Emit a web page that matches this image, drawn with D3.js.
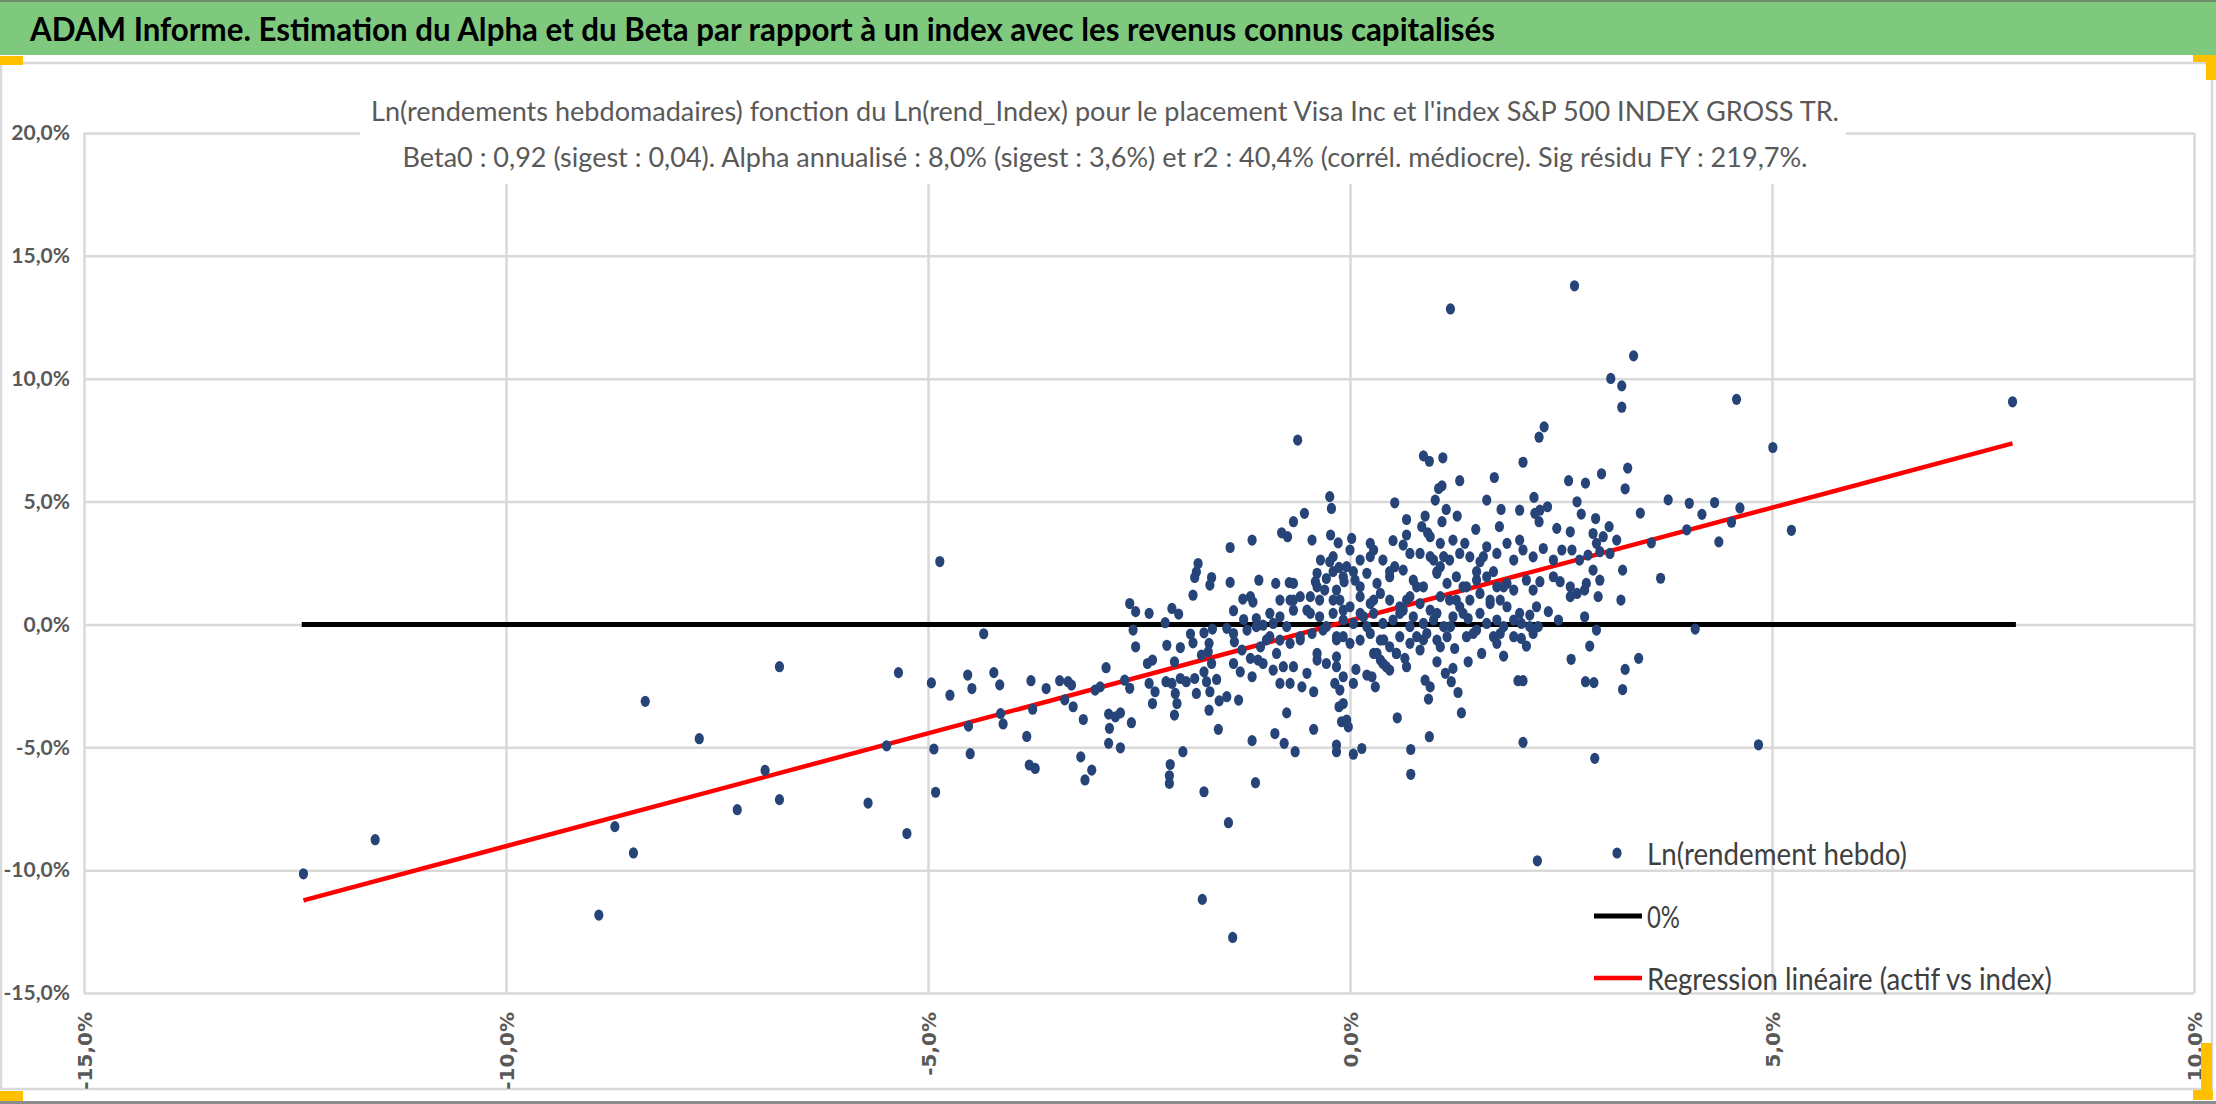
<!DOCTYPE html>
<html>
<head>
<meta charset="utf-8">
<script src="https://cdn.jsdelivr.net/npm/d3@7"></script>
<style>
body { margin: 0; background: #fff; }
svg { display: block; }
</style>
</head>
<body>
<script>
var width = 2216, height = 1104;

// texts
var bannerTitle = "ADAM Informe. Estimation du Alpha et du Beta par rapport à un index avec les revenus connus capitalisés";
var chartTitle = [
 "Ln(rendements hebdomadaires) fonction du Ln(rend_Index) pour le placement Visa Inc et l'index S&P 500 INDEX GROSS TR.",
 "Beta0 : 0,92 (sigest : 0,04). Alpha annualisé : 8,0% (sigest : 3,6%) et r2 : 40,4% (corrél. médiocre). Sig résidu FY : 219,7%."
];
var legendLabels = ["Ln(rendement hebdo)", "0%", "Regression linéaire (actif vs index)"];

// axis ticks
var xTicks = [-15, -10, -5, 0, 5, 10];
var xTickLabels = ["-15,0%", "-10,0%", "-5,0%", "0,0%", "5,0%", "10,0%"];
var yTicks = [-15, -10, -5, 0, 5, 10, 15, 20];
var yTickLabels = ["-15,0%", "-10,0%", "-5,0%", "0,0%", "5,0%", "10,0%", "15,0%", "20,0%"];

// zero line and regression line (index %, asset %)
var zeroX = [-12.42, 7.89];
var zeroY = [0, 0];
var regX = [-12.40, 7.85];
var regY = [-11.23, 7.37];

// weekly log returns [index %, asset %]
var weeklyPoints = [
 [-12.40,-10.15],[-11.55,-8.76],[-8.90,-11.83],[-8.71,-8.23],[-8.49,-9.30],[-8.35,-3.13],[-7.71,-4.65],[-7.26,-7.54],
 [-6.93,-5.94],[-6.76,-1.72],[-6.76,-7.13],[-5.71,-7.27],[-5.49,-4.94],[-5.35,-1.96],[-5.25,-8.51],[-4.96,-2.38],
 [-4.93,-5.07],[-4.91,-6.83],[-4.86,2.56],[-4.74,-2.88],[-4.53,-2.06],[-4.52,-4.14],[-4.50,-5.26],[-4.48,-2.61],
 [-4.34,-0.38],[-4.22,-1.96],[-4.15,-2.46],[-4.14,-3.63],[-4.11,-4.05],[-3.83,-4.56],[-3.80,-5.72],[-3.73,-5.86],
 [-3.78,-2.29],[-3.76,-3.45],[-3.60,-2.61],[-3.44,-2.29],[-3.38,-3.07],
 [-0.24,5.20],[-0.22,4.72],[-0.54,4.52],[-0.67,4.18],[-0.81,3.73],[-0.74,3.57],[-1.16,3.43],[-1.42,3.13],[-0.45,3.43],
 [-0.23,3.64],[-0.14,3.32],[-1.80,2.48],[-1.82,2.14],[-1.84,1.91],[-1.64,1.91],[-1.66,1.60],[-1.42,1.71],[-1.08,1.80],
 [-0.88,1.67],[-0.72,1.70],[-0.67,1.67],[-0.35,2.62],[-0.24,2.55],[-0.13,2.32],[-0.39,2.08],[-0.41,1.74],[-0.28,1.87],
 [-0.07,1.74],[-1.86,1.19],[-1.27,1.03],[-1.18,1.13],[-1.15,0.91],[-2.61,0.85],[-2.54,0.52],[-2.38,0.45],[-2.11,0.65],
 [-2.03,0.42],[-1.38,0.56],[-0.83,0.99],[-0.71,0.99],[-0.59,1.13],[-0.47,1.13],[-0.36,0.99],[-0.30,1.40],[-0.16,1.40],
 [-2.19,0.07],[-2.57,-0.23],[-2.54,-0.91],[-1.89,-0.39],[-1.73,-0.34],[-1.63,-0.19],[-1.46,-0.16],[-1.38,-0.37],
 [-1.26,0.20],[-1.11,0.24],[-1.22,-0.23],[-1.03,-0.03],[-0.91,0.04],[-0.83,0.31],[-0.67,0.58],[-0.51,0.58],[-0.36,0.31],
 [-0.20,0.45],[-0.08,0.58],[-2.17,-0.85],[-2.01,-0.94],[-1.86,-0.75],[-1.67,-0.77],[-1.68,-1.11],[-1.76,-1.25],
 [-1.64,-1.59],[-1.38,-1.59],[-1.37,-0.71],[-1.28,-1.04],[-1.18,-1.38],[-1.09,-1.45],[-1.06,-0.91],[-0.95,-0.50],
 [-0.83,-0.64],[-0.71,-0.77],[-0.59,-0.50],[-0.45,-0.37],[-0.32,-0.23],[-0.16,-0.50],[-2.40,-1.59],[-2.34,-1.45],
 [-2.08,-1.52],[-2.89,-1.76],[-3.34,-2.33],[-3.30,-2.47],[-3.28,-3.35],[-3.02,-2.67],[-2.96,-2.54],[-2.67,-2.27],
 [-2.61,-2.60],[-2.38,-2.40],[-2.31,-2.74],[-2.34,-3.22],[-2.18,-2.33],[-2.11,-2.40],[-2.01,-2.20],[-1.94,-2.33],
 [-1.84,-2.20],[-1.82,-2.81],[-1.70,-2.33],[-1.73,-1.93],[-1.58,-2.24],[-1.66,-2.74],[-2.07,-2.81],[-2.05,-3.22],
 [-2.08,-3.69],[-2.86,-3.65],[-2.78,-3.76],[-2.72,-3.60],[-2.85,-4.23],[-2.59,-4.00],[-3.16,-3.87],[-1.55,-3.11],
 [-1.46,-2.94],[-1.32,-3.08],[-1.67,-3.49],[-1.30,-1.93],[-1.16,-2.13],[-1.03,-1.59],[-0.91,-1.86],[-0.83,-2.40],
 [-0.71,-2.40],[-0.57,-2.54],[-0.43,-2.74],[-0.51,-1.99],[-0.39,-1.45],[-0.28,-1.59],[-0.16,-1.32],[-0.18,-2.40],
 [-0.13,-3.35],[-0.10,-3.96],[-0.75,-3.60],[-0.43,-4.27],[-0.89,-4.44],[-0.78,-4.84],[-0.65,-5.18],[-1.16,-4.73],
 [-1.56,-4.27],[-1.98,-5.18],[-2.86,-4.84],[-2.72,-5.02],[-3.19,-5.39],[-0.16,-4.91],[-0.16,-5.18],
 [1.19,12.84],[2.66,13.78],[3.36,10.93],[3.09,10.01],[3.22,9.71],[3.22,8.84],[4.58,9.16],[7.85,9.06],[5.01,7.20],
 [5.23,3.83],[2.30,8.04],[2.24,7.62],[0.87,6.86],[0.94,6.64],[1.10,6.78],[2.05,6.60],[3.29,6.36],[1.71,5.98],
 [1.30,5.85],[2.59,5.85],[2.79,5.75],[2.98,6.13],[1.05,5.53],[1.09,5.64],[3.26,5.52],[3.77,5.07],[4.02,4.93],
 [4.32,4.96],[4.62,4.74],[4.17,4.48],[4.52,4.16],[3.99,3.85],[4.37,3.36],[3.57,3.32],[3.68,1.88],[3.44,4.53],
 [0.53,4.95],[1.01,5.06],[1.14,4.68],[1.62,5.06],[1.79,4.68],[2.01,4.65],[2.18,5.17],[2.25,4.65],[2.34,4.79],
 [2.69,4.99],[2.74,4.49],[2.91,4.31],[3.07,3.98],[0.67,4.27],[0.89,4.41],[1.09,4.18],[1.27,4.41],[1.49,3.87],
 [1.77,3.98],[2.19,4.52],[2.24,4.18],[2.45,3.91],[2.61,3.77],[2.88,3.70],[3.00,3.57],[0.02,3.50],[0.24,3.30],
 [0.51,3.41],[0.63,3.23],[0.67,3.64],[0.85,3.98],[0.92,3.73],[0.95,3.57],[1.07,3.30],[1.22,3.43],[1.36,3.30],
 [0.00,3.03],[-0.04,2.35],[0.12,2.62],[0.28,3.03],[0.39,2.62],[0.53,2.35],[0.71,2.89],[0.83,2.89],[0.99,2.62],
 [1.07,2.35],[1.18,2.62],[1.30,2.89],[1.42,2.75],[1.54,2.55],[1.62,3.16],[1.74,2.89],[1.86,3.30],[1.94,2.62],
 [2.01,3.43],[2.05,3.03],[2.17,2.75],[2.29,3.09],[2.41,2.62],[2.51,3.03],[2.63,3.03],[2.72,2.62],[2.82,2.82],
 [2.96,2.96],[3.08,2.89],[3.16,3.43],[2.92,3.30],
 [-0.08,1.94],[0.06,1.80],[0.20,2.08],[0.32,1.67],[0.47,1.94],[0.63,2.21],[0.75,1.80],[0.87,1.53],[1.03,2.08],
 [1.15,1.67],[1.26,1.94],[1.38,1.53],[1.50,1.80],[1.62,1.94],[1.74,1.53],[1.86,1.67],[1.94,1.40],[2.09,1.80],
 [2.25,1.74],[2.41,1.94],[2.49,1.74],[2.61,1.53],[2.80,1.67],[2.96,1.80],[2.88,2.21],[3.23,2.21],
 [-0.12,0.99],[0.00,0.72],[0.12,1.13],[0.24,0.85],[0.36,1.26],[0.47,0.99],[0.59,0.72],[0.71,1.13],[0.83,0.85],
 [0.95,0.58],[1.07,1.13],[1.18,0.99],[1.30,0.72],[1.42,0.99],[1.54,1.26],[1.66,0.85],[1.78,0.99],[1.86,0.72],
 [2.01,0.45],[2.13,0.38],[2.21,0.72],[2.35,0.52],[2.47,0.18],[2.61,1.13],[2.69,1.26],[2.78,1.40],[2.94,1.13],
 [3.21,0.99],[2.17,1.40],
 [-0.08,0.18],[0.04,0.04],[0.16,0.31],[0.28,0.45],[0.39,0.04],[0.51,0.18],[0.63,0.58],[0.75,0.31],[0.87,0.04],
 [0.99,0.18],[1.11,-0.09],[1.22,0.31],[1.34,0.45],[1.40,0.24],[1.50,-0.23],[1.62,0.04],[1.74,0.18],[1.82,-0.09],
 [1.94,0.18],[2.03,0.04],[2.13,-0.09],[2.23,-0.09],[2.78,0.31],[2.92,-0.23],
 [-0.08,-0.50],[0.00,-0.77],[0.12,-0.64],[0.24,-0.37],[0.36,-0.64],[0.47,-0.91],[0.59,-0.50],[0.71,-0.77],
 [0.79,-0.50],[0.91,-0.37],[1.03,-0.64],[1.15,-0.50],[1.24,-0.98],[1.07,-0.91],[1.38,-0.50],[1.46,-0.37],
 [1.70,-0.50],[1.78,-0.37],[1.74,-0.77],[1.94,-0.50],[2.03,-0.57],[2.09,-0.88],[2.17,-0.37],
 [0.28,-1.18],[0.36,-1.45],[0.55,-1.18],[0.65,-1.38],[0.83,-1.04],[1.03,-1.52],[1.13,-1.99],[1.22,-1.79],
 [1.40,-1.52],[1.56,-1.18],[1.82,-1.29],[0.07,-1.83],[0.20,-2.06],[0.26,-2.13],[0.39,-1.59],[0.47,-1.86],
 [0.67,-1.72],[0.30,-2.54],[0.04,-2.40],[-0.08,-2.13],
 [0.89,-2.27],[0.95,-2.54],[0.93,-3.04],[1.20,-2.33],[1.28,-2.77],[1.32,-3.60],[0.56,-3.80],[1.99,-2.29],
 [2.05,-2.29],[2.62,-1.42],[2.79,-2.33],[2.89,-2.37],[2.84,-0.88],[3.23,-2.65],[3.26,-1.83],[3.42,-1.38],
 [0.94,-4.57],[0.72,-5.09],[2.05,-4.80],[0.14,-5.05],[0.04,-5.28],[-0.08,-3.22],[-0.04,-3.89],[-0.02,-4.17],
 [2.90,-5.45],[-0.12,-2.67],
 [-3.06,-5.93],[-3.14,-6.33],[-2.13,-5.70],[-2.14,-6.16],[-2.14,-6.47],[-1.73,-6.81],[-1.44,-8.07],[-1.12,-6.44],
 [0.72,-6.10],[2.22,-9.62],[-1.75,-11.19],[-1.39,-12.74],[4.09,-0.19],[4.84,-4.90],[-0.62,7.50],
 [-0.20,2.15],[0.04,2.15],[0.47,2.15],[1.03,2.15],[1.50,2.15],[1.70,2.15],
 [-0.67,0.99],[-0.20,0.99],[0.28,0.99],[0.67,0.99],[1.26,0.99],[1.66,0.99],
 [-0.95,0.45],[-0.47,0.45],[0.12,0.45],[0.59,0.45],[1.03,0.45],[1.54,0.45],
 [-1.11,-0.09],[-0.75,-0.09],[-0.28,-0.09],[0.20,-0.09],[0.71,-0.09],[1.19,-0.09],
 [-0.99,-0.63],[-0.59,-0.63],[-0.16,-0.63],[0.40,-0.63],[0.87,-0.63],
 [-0.87,-1.18],[-0.39,-1.18],[0.32,-1.18],[0.55,-1.18],
 [-0.79,-1.72],[-0.67,-1.72],[-0.16,-1.72],[0.43,-1.72],
 [-0.39,1.53],[0.12,1.53],[0.79,1.53],[1.34,1.53],[1.82,1.53],
 [-0.20,2.76],[0.24,2.76],[0.95,2.76],[1.11,2.76],[1.58,2.76]
];

var svg = d3.select('body').append('svg').attr('width', width).attr('height', height);

var font = "Lato, 'Open Sans', sans-serif";
var pointColor = "#264478";

// banner
svg.append('rect').attr('x', 0).attr('y', 0).attr('width', width).attr('height', 55).attr('fill', '#7ec97e');
svg.append('rect').attr('x', 0).attr('y', 0).attr('width', width).attr('height', 2).attr('fill', '#6e8f6e');
svg.append('text')
 .attr('x', 30).attr('y', 28)
 .attr('dominant-baseline', 'central')
 .attr('font-family', font).attr('font-weight', 'bold').attr('font-size', 33)
 .attr('textLength', 1465).attr('lengthAdjust', 'spacingAndGlyphs')
 .attr('fill', '#000')
 .text(bannerTitle);

// chart frame
svg.append('rect').attr('x', 1).attr('y', 63).attr('width', 2211).attr('height', 1026)
 .attr('fill', 'none').attr('stroke', '#d9d9d9').attr('stroke-width', 2.5);
svg.append('rect').attr('x', 0).attr('y', 1101).attr('width', width).attr('height', 3).attr('fill', '#8c8c8c');

// scales
var x = d3.scaleLinear().domain([-15, 10]).range([84, 2194]);
var y = d3.scaleLinear().domain([-15, 20]).range([993, 133]);

// y axis + horizontal grid
var yAxis = svg.append('g').attr('transform', 'translate(' + x(-15) + ',0)')
 .call(d3.axisLeft(y).tickValues(yTicks).tickSize(-(x(10) - x(-15))).tickPadding(14)
 .tickFormat(function(d, i) { return yTickLabels[i]; }));
yAxis.select('.domain').remove();
yAxis.selectAll('line').attr('stroke', '#d9d9d9').attr('stroke-width', 2.5);
yAxis.selectAll('text')
 .attr('font-family', font).attr('font-weight', 'bold').attr('font-size', 21)
 .attr('fill', '#595959');

// x axis + vertical grid
var xAxis = svg.append('g').attr('transform', 'translate(0,' + y(-15) + ')')
 .call(d3.axisBottom(x).tickValues(xTicks).tickSize(-(y(-15) - y(20)))
 .tickFormat(function(d, i) { return xTickLabels[i]; }));
xAxis.select('.domain').remove();
xAxis.selectAll('line').attr('stroke', '#d9d9d9').attr('stroke-width', 2.5);
xAxis.selectAll('text')
 .attr('font-family', "'DejaVu Sans', sans-serif").attr('font-weight', 'bold').attr('font-size', 20)
 .attr('fill', '#595959')
 .attr('text-anchor', 'end')
 .attr('transform', 'translate(0,19) rotate(-90)')
 .attr('x', 0).attr('y', 0).attr('dy', '0.36em');

// title box over the grid
svg.append('rect').attr('x', 360).attr('y', 86).attr('width', 1486).attr('height', 98).attr('fill', '#fff');
svg.selectAll('.ctitle')
 .data(chartTitle)
 .join('text')
 .attr('class', 'ctitle')
 .attr('x', 1105)
 .attr('y', function(d, i) { return 110 + i * 46; })
 .attr('text-anchor', 'middle').attr('dominant-baseline', 'central')
 .attr('font-family', font).attr('font-size', 27).attr('fill', '#595959')
 .attr('textLength', function(d, i) { return i == 0 ? 1468 : 1405; })
 .attr('lengthAdjust', 'spacingAndGlyphs')
 .text(function(d) { return d; });

var line = d3.line().x(function(d) { return x(d[0]); }).y(function(d) { return y(d[1]); });

// zero line
svg.append('path')
 .datum(d3.zip(zeroX, zeroY))
 .attr('d', line).attr('fill', 'none').attr('stroke', '#000').attr('stroke-width', 5);

// regression line
svg.append('path')
 .datum(d3.zip(regX, regY))
 .attr('d', line).attr('fill', 'none').attr('stroke', '#ff0000').attr('stroke-width', 4.5);

// points
svg.append('g').selectAll('ellipse')
 .data(weeklyPoints)
 .join('ellipse')
 .attr('cx', function(d) { return x(d[0]); })
 .attr('cy', function(d) { return y(d[1]); })
 .attr('rx', 4.6).attr('ry', 5.6)
 .attr('fill', pointColor);

// legend
var legY = [853, 916, 978];
var legW = [260, 33, 405];
var leg = svg.append('g');
leg.append('ellipse').attr('cx', 1617).attr('cy', legY[0]).attr('rx', 4.6).attr('ry', 5.6).attr('fill', pointColor);
leg.append('line').attr('x1', 1594).attr('x2', 1642).attr('y1', legY[1]).attr('y2', legY[1])
 .attr('stroke', '#000').attr('stroke-width', 5);
leg.append('line').attr('x1', 1594).attr('x2', 1642).attr('y1', legY[2]).attr('y2', legY[2])
 .attr('stroke', '#ff0000').attr('stroke-width', 4.5);
leg.selectAll('text')
 .data(legendLabels)
 .join('text')
 .attr('x', 1647)
 .attr('y', function(d, i) { return legY[i]; })
 .attr('dominant-baseline', 'central')
 .attr('font-family', font).attr('font-size', 31).attr('fill', '#404040')
 .attr('textLength', function(d, i) { return legW[i]; })
 .attr('lengthAdjust', 'spacingAndGlyphs')
 .text(function(d) { return d; });

// selection handles
var handles = [[0, 56, 23, 9], [2193, 55, 23, 7], [2206, 55, 10, 25], [0, 1091, 23, 10], [2201, 1043, 11, 57], [2193, 1090, 20, 10]];
svg.append('g').selectAll('rect')
 .data(handles)
 .join('rect')
 .attr('x', function(d) { return d[0]; }).attr('y', function(d) { return d[1]; })
 .attr('width', function(d) { return d[2]; }).attr('height', function(d) { return d[3]; })
 .attr('fill', '#ffc000');

console.log('ready..');
</script>
</body>
</html>
